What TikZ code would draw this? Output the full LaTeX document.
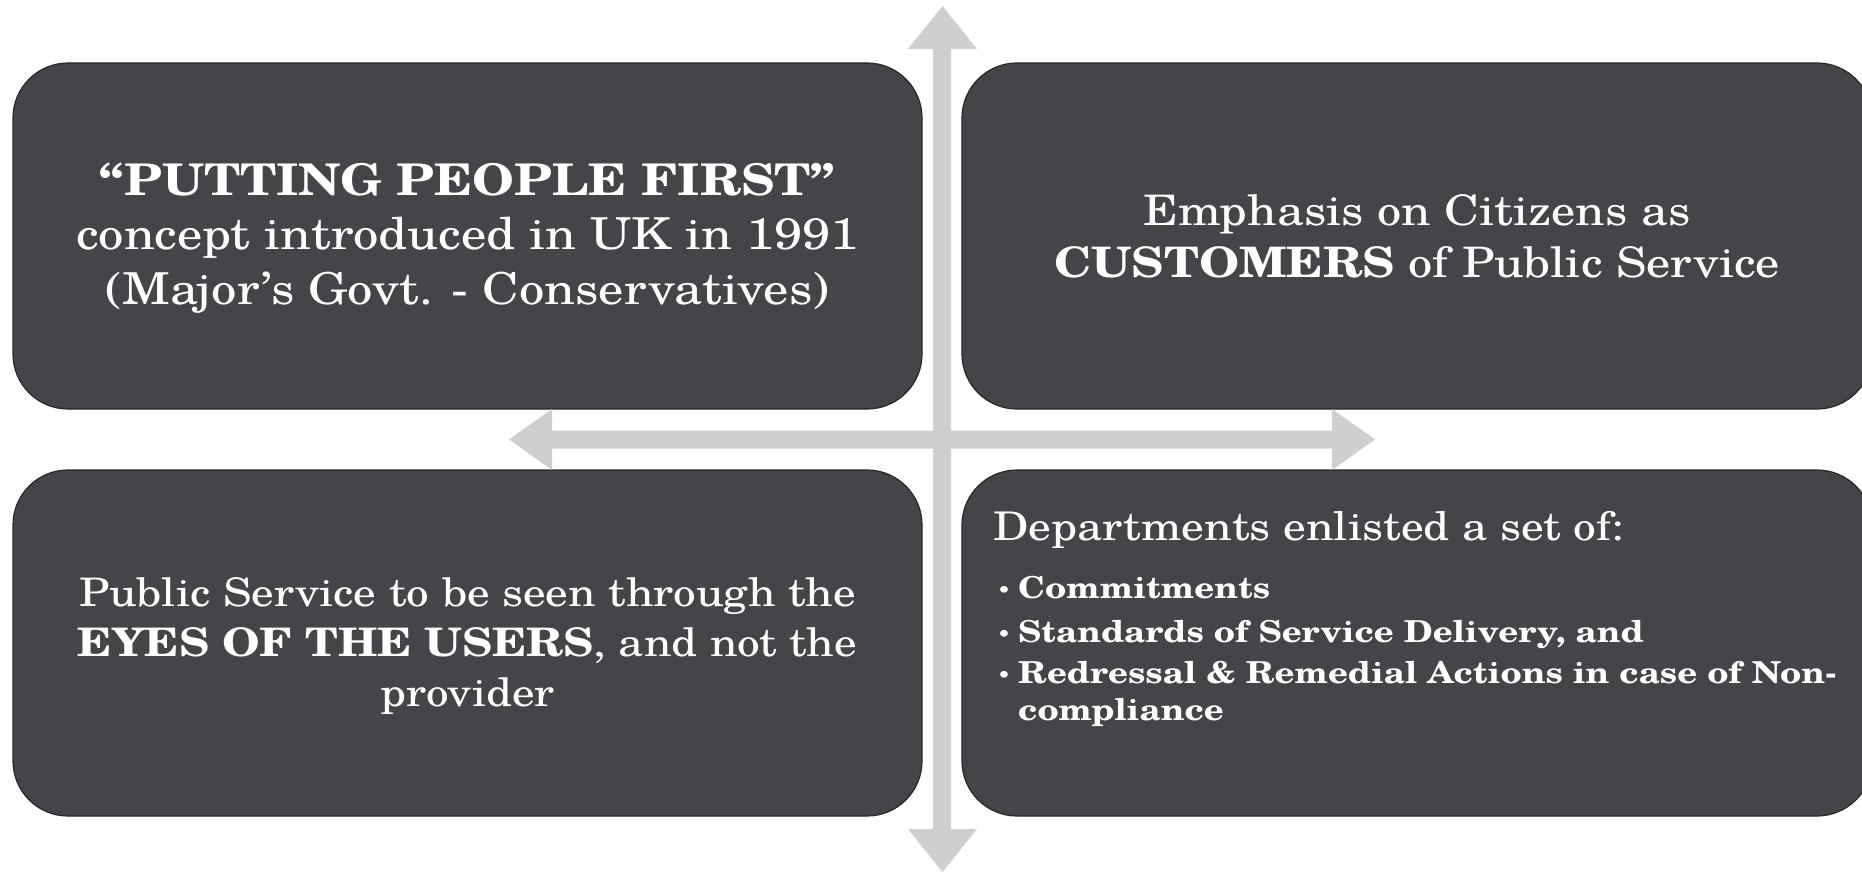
\documentclass[tikz,border=0pt]{standalone}
\usepackage{fontspec}
\setmainfont{texgyreschola}[Extension=.otf, UprightFont=*-regular, BoldFont=*-bold, ItalicFont=*-italic, BoldItalicFont=*-bolditalic, FakeStretch=1.15]
\definecolor{boxfill}{RGB}{69,68,73}
\definecolor{boxline}{RGB}{40,40,42}
\definecolor{arrowgray}{RGB}{207,207,207}
\begin{document}
\begin{tikzpicture}[x=1pt,y=-1pt,
  box/.style={draw=boxline, line width=1.2pt, fill=boxfill, rounded corners=55pt,
    minimum width=909pt, minimum height=346pt, inner sep=0pt, outer sep=0pt},
  txt/.style={text=white, align=center, inner sep=0pt},
  ltxt/.style={text=white, anchor=base west, inner sep=0pt},
  axis/.style={fill=arrowgray}]
\useasboundingbox (0,0) rectangle (1862,872);
% boxes
\node[box] (tl) at (467.5,236) {};
\node[box, minimum width=910pt] (tr) at (1417,236) {};
\node[box] (bl) at (467.5,643) {};
\node[box, minimum width=910pt] (br) at (1417,643) {};
% axes
\fill[axis] (933,49) -- (908,49) -- (942.5,6) -- (977,49) -- (951,49) -- (951,829)
  -- (977,829) -- (942.5,872) -- (908,829) -- (933,829) -- cycle;
\fill[axis] (552,430.5) -- (552,409) -- (509,439.5) -- (552,470) -- (552,448.5) -- (1332,448.5)
  -- (1332,470) -- (1375,439.5) -- (1332,409) -- (1332,430.5) -- cycle;
% texts
\node[txt, font=\fontsize{44}{54.5}\selectfont] (tlt) at ([yshift=-2pt]tl.center)
  {{\fontsize{43.7}{54.5}\selectfont\bfseries “PUTTING PEOPLE FIRST”}\\
   concept introduced in UK in 1991\\
   (Major’s Govt. - Conservatives)};
\node[txt, font=\fontsize{42}{52}\selectfont] (trt) at (tr.center)
  {Emphasis on Citizens as\\ \textbf{CUSTOMERS} of Public Service};
\node[txt, font=\fontsize{39.3}{50}\selectfont] (blt) at ([yshift=-3pt]bl.center)
  {Public Service to be seen through the\\ \textbf{EYES OF THE USERS}, and not the\\ provider};
\node[ltxt, font=\fontsize{39.5}{50}\selectfont] (brh) at (993,540) {Departments enlisted a set of:};
\node[ltxt, font=\fontsize{20}{20}\selectfont] (b1) at (997,597) {•};
\node[ltxt, font=\fontsize{20}{20}\selectfont] (b2) at (997,641) {•};
\node[ltxt, font=\fontsize{20}{20}\selectfont] (b3) at (997,682) {•};
\node[ltxt, font=\fontsize{30.2}{36}\selectfont\bfseries] (i1) at (1018,598) {Commitments};
\node[ltxt, font=\fontsize{30.2}{36}\selectfont\bfseries] (i2) at (1018,642) {Standards of Service Delivery, and};
\node[ltxt, font=\fontsize{30.2}{36}\selectfont\bfseries] (i3) at (1018,683) {Redressal \& Remedial Actions in case of Non-};
\node[ltxt, font=\fontsize{30.2}{36}\selectfont\bfseries] (i4) at (1018,720) {compliance};
\end{tikzpicture}
\end{document}
